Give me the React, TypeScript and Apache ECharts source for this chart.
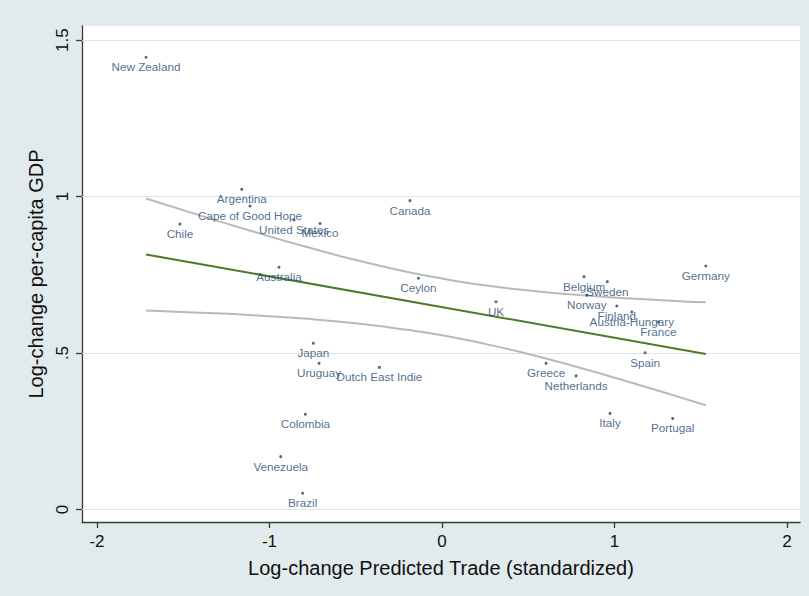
import React, { useEffect, useRef } from "react";
import * as echarts from "echarts";

const countries = [
  "New Zealand", "Argentina", "Cape of Good Hope", "Chile", "United States", "Mexico",
  "Canada", "Australia", "Ceylon", "Japan", "Uruguay", "Dutch East Indie", "Colombia",
  "Venezuela", "Brazil", "Germany", "Belgium", "Sweden", "UK", "Norway", "Finland",
  "Austria-Hungary", "France", "Spain", "Greece", "Netherlands", "Italy", "Portugal",
];
const tradeX = [
  -1.716, -1.161, -1.113, -1.519, -0.858, -0.707,
  -0.186, -0.945, -0.137, -0.746, -0.713, -0.363, -0.792,
  -0.935, -0.808, 1.529, 0.823, 0.958, 0.313, 0.839, 1.013,
  1.1, 1.254, 1.177, 0.603, 0.777, 0.974, 1.337,
];
const gdpY = [
  1.445, 1.023, 0.97, 0.912, 0.925, 0.914,
  0.987, 0.774, 0.739, 0.531, 0.467, 0.454, 0.304,
  0.169, 0.052, 0.778, 0.744, 0.728, 0.664, 0.685, 0.65,
  0.631, 0.599, 0.501, 0.467, 0.427, 0.307, 0.291,
];

const fitX = [-1.716, 1.529];
const fitY = [0.815, 0.497];

const bandX = [-1.716, -1.4, -1.1, -0.8, -0.5, -0.2, 0, 0.2, 0.5, 0.8, 1.1, 1.4, 1.529];
const upperY = [0.994, 0.939, 0.889, 0.841, 0.797, 0.759, 0.738, 0.72, 0.7, 0.685, 0.674, 0.665, 0.662];
const lowerY = [0.636, 0.629, 0.621, 0.61, 0.595, 0.574, 0.557, 0.535, 0.497, 0.453, 0.405, 0.355, 0.333];

const xTicks = [-2, -1, 0, 1, 2];
const yTicks = [0, 0.5, 1, 1.5];
const yTickLabels = ["0", ".5", "1", "1.5"];

const FONT = "'Liberation Sans', Arial, Helvetica, sans-serif";

export default function App() {
  const ref = useRef<HTMLDivElement>(null);
  useEffect(() => {
    if (!ref.current) return;
    const chart = echarts.init(ref.current, null, { renderer: "svg" });
    const zip = (xs: number[], ys: number[]) => xs.map((x, i) => [x, ys[i]]);
    chart.setOption({
      animation: false,
      backgroundColor: "#e1eaec",
      textStyle: { fontFamily: FONT },
      grid: {
        left: 82, right: 9, top: 26, bottom: 74,
        show: true, backgroundColor: "#ffffff", borderWidth: 0,
      },
      xAxis: {
        type: "value",
        min: -2.087,
        max: 2.075,
        position: "bottom",
        axisLine: { show: true, onZero: false, lineStyle: { color: "#3a3a3a", width: 1.3 } },
        axisTick: { show: true, length: 6, customValues: xTicks, lineStyle: { color: "#3a3a3a", width: 1.3 } },
        axisLabel: {
          customValues: xTicks, fontSize: 17, color: "#111", margin: 11, fontFamily: FONT,
          formatter: (v: number) => String(v),
        },
        splitLine: { show: false },
        name: "Log-change Predicted Trade (standardized)",
        nameLocation: "middle",
        nameGap: 36,
        nameTextStyle: { fontSize: 20, color: "#111", fontFamily: FONT },
      },
      yAxis: {
        type: "value",
        min: -0.04,
        max: 1.545,
        position: "left",
        axisLine: { show: true, onZero: false, lineStyle: { color: "#3a3a3a", width: 1.3 } },
        axisTick: { show: true, length: 6, customValues: yTicks, lineStyle: { color: "#3a3a3a", width: 1.3 } },
        axisLabel: {
          customValues: yTicks, fontSize: 17, color: "#111", margin: 11, rotate: 90, fontFamily: FONT,
          formatter: (v: number) => {
            const i = yTicks.findIndex((t) => Math.abs(t - v) < 1e-9);
            return i >= 0 ? yTickLabels[i] : "";
          },
        },
        splitLine: { show: false },
        name: "Log-change per-capita GDP",
        nameLocation: "middle",
        nameGap: 26,
        nameRotate: 90,
        nameTextStyle: { fontSize: 20, color: "#111", fontFamily: FONT },
      },
      series: [
        {
          type: "line",
          name: "upper",
          data: zip(bandX, upperY),
          smooth: 0.5,
          showSymbol: false,
          symbol: "none",
          lineStyle: { color: "#b9b9b9", width: 2 },
          z: 2,
          silent: true,
          markLine: {
            z: 1,
            silent: true,
            symbol: "none",
            label: { show: false },
            lineStyle: { color: "#d8e5ec", width: 1.2, type: "solid" },
            data: yTicks.map((v) => ({ yAxis: v })),
          },
        },
        {
          type: "line",
          name: "lower",
          data: zip(bandX, lowerY),
          smooth: 0.5,
          showSymbol: false,
          symbol: "none",
          lineStyle: { color: "#b9b9b9", width: 2 },
          z: 2,
          silent: true,
        },
        {
          type: "line",
          name: "fit",
          data: zip(fitX, fitY),
          showSymbol: false,
          symbol: "none",
          lineStyle: { color: "#4e7a2c", width: 2 },
          z: 3,
          silent: true,
        },
        {
          type: "scatter",
          name: "countries",
          data: countries.map((c, i) => ({ name: c, value: [tradeX[i], gdpY[i]] })),
          symbol: "circle",
          symbolSize: 3,
          itemStyle: { color: "#1a476f" },
          label: {
            show: true,
            position: "bottom",
            distance: 2,
            formatter: "{b}",
            fontSize: 11.7,
            color: "#1d4873",
            fontFamily: FONT,
          },
          z: 4,
        },
      ],
    });
    return () => chart.dispose();
  }, []);
  return (
    <div
      ref={ref}
      style={{ position: "absolute", left: 0, top: 0, width: 809, height: 596 }}
    />
  );
}
